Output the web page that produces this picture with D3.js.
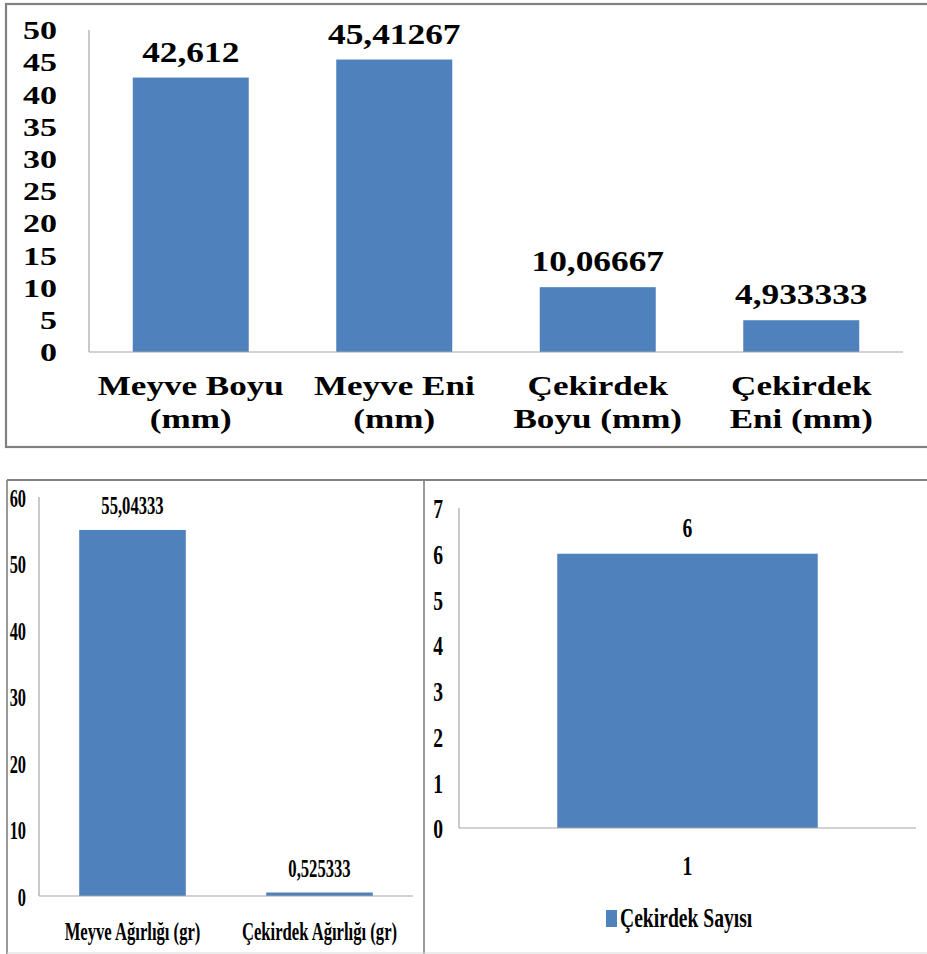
<!DOCTYPE html>
<html>
<head>
<meta charset="utf-8">
<script src="https://cdn.jsdelivr.net/npm/d3@7"></script>
<style>
  body { margin: 0; background: #fff; }
  svg { display: block; }
  text { font-family: "Liberation Serif", "Times New Roman", serif; font-weight: bold; fill: #000; }
</style>
</head>
<body>
<svg id="chart" width="927" height="954"></svg>
<script>
// Fruit and stone dimensions (mm)
const sizeCategories = ["Meyve Boyu\n(mm)", "Meyve Eni\n(mm)", "Çekirdek\nBoyu (mm)", "Çekirdek\nEni (mm)"];
const sizeValues = [42.612, 45.41267, 10.06667, 4.933333];
const sizeTicks = [0, 5, 10, 15, 20, 25, 30, 35, 40, 45, 50];

// Fruit and stone weights (gr)
const weightCategories = ["Meyve Ağırlığı (gr)", "Çekirdek Ağırlığı (gr)"];
const weightValues = [55.04333, 0.525333];
const weightTicks = [0, 10, 20, 30, 40, 50, 60];

// Stone count
const seedCategories = ["1"];
const seedValues = [6];
const seedTicks = [0, 1, 2, 3, 4, 5, 6, 7];
const seedSeries = "Çekirdek Sayısı";

const BAR = "#4f81bd";
const AXIS = "#a6a6a6";
const FRAME = "#808080";

const tr = d3.formatLocale({ decimal: ",", thousands: ".", grouping: [3], currency: ["", ""] });
const valueFmt = tr.format(".7~g");

const svg = d3.select("#chart");

// Panel frames
svg.append("rect").attr("x", 6).attr("y", 4).attr("width", 960).attr("height", 443)
  .attr("fill", "none").attr("stroke", FRAME).attr("stroke-width", 2.2);
svg.append("line").attr("x1", 7).attr("x2", 960).attr("y1", 480).attr("y2", 480)
  .attr("stroke", FRAME).attr("stroke-width", 2.2);
svg.append("line").attr("x1", 7).attr("x2", 7).attr("y1", 480).attr("y2", 954)
  .attr("stroke", FRAME).attr("stroke-width", 1.6);
svg.append("line").attr("x1", 424).attr("x2", 424).attr("y1", 480).attr("y2", 954)
  .attr("stroke", FRAME).attr("stroke-width", 1.6);
svg.append("line").attr("x1", 7).attr("x2", 960).attr("y1", 953).attr("y2", 953)
  .attr("stroke", "#d9d9d9").attr("stroke-width", 1);

function scaledText(sel, x, y, sx) {
  return sel.attr("transform", `translate(${x},${y}) scale(${sx},1)`);
}

function barChart(cfg) {
  const g = svg.append("g");
  const x = d3.scaleBand().domain(cfg.cats).range([cfg.left, cfg.right])
    .paddingInner(0.43).paddingOuter(0.215);
  const y = d3.scaleLinear().domain([0, cfg.max]).range([cfg.base, cfg.top]);

  // axis lines
  g.append("line").attr("x1", cfg.left).attr("x2", cfg.left)
    .attr("y1", y(cfg.max)).attr("y2", y(0)).attr("stroke", AXIS).attr("stroke-width", 1.2);

  // bars
  g.selectAll("rect.bar").data(cfg.vals).join("rect").attr("class", "bar")
    .attr("x", (d, i) => x(cfg.cats[i]))
    .attr("width", x.bandwidth())
    .attr("y", d => y(d))
    .attr("height", d => y(0) - y(d))
    .attr("fill", BAR);

  g.append("line").attr("x1", cfg.left).attr("x2", cfg.right)
    .attr("y1", y(0)).attr("y2", y(0)).attr("stroke", AXIS).attr("stroke-width", 1.2);

  // y tick labels
  const ax = g.append("g").attr("transform", `translate(${cfg.left},0)`)
    .call(d3.axisLeft(y).tickValues(cfg.ticks).tickSize(0).tickFormat(d3.format("d")));
  ax.select(".domain").remove();
  ax.selectAll(".tick text")
    .attr("x", 0).attr("dy", "0.35em")
    .attr("text-anchor", "end")
    .style("font-size", cfg.tickSize + "px")
    .style("font-family", null)
    .attr("transform", `translate(${cfg.tickRight - cfg.left},0) scale(${cfg.tickSx},1)`);

  // value labels
  g.selectAll("text.val").data(cfg.vals).join("text").attr("class", "val")
    .attr("text-anchor", "middle")
    .style("font-size", cfg.valSize + "px")
    .text(d => valueFmt(d))
    .each(function (d, i) {
      scaledText(d3.select(this), x(cfg.cats[i]) + x.bandwidth() / 2, y(d) - cfg.valGap, cfg.valSx);
    });

  // category labels
  g.selectAll("text.cat").data(cfg.cats).join("text").attr("class", "cat")
    .attr("text-anchor", "middle")
    .style("font-size", cfg.catSize + "px")
    .each(function (d) {
      const t = d3.select(this);
      scaledText(t, x(d) + x.bandwidth() / 2, cfg.catBase, cfg.catSx);
      d.split("\n").forEach((line, k) => {
        t.append("tspan").attr("x", 0).attr("dy", k === 0 ? 0 : cfg.catLine).text(line);
      });
    });
  return { x, y };
}

// Dimensions chart
barChart({
  cats: sizeCategories, vals: sizeValues, ticks: sizeTicks, max: 50,
  left: 89, right: 903, base: 352, top: 30,
  tickSize: 25, tickSx: 1.36, tickRight: 57,
  valSize: 29, valSx: 1.22, valGap: 16,
  catSize: 27, catSx: 1.3, catBase: 395, catLine: 33
});

// Weights chart
barChart({
  cats: weightCategories, vals: weightValues, ticks: weightTicks, max: 60,
  left: 39, right: 413, base: 896, top: 497,
  tickSize: 26, tickSx: 0.63, tickRight: 26,
  valSize: 26, valSx: 0.64, valGap: 16,
  catSize: 26, catSx: 0.64, catBase: 940, catLine: 30
});

// Stone count chart
barChart({
  cats: seedCategories, vals: seedValues, ticks: seedTicks, max: 7,
  left: 459, right: 916, base: 828, top: 508,
  tickSize: 28, tickSx: 0.7, tickRight: 443,
  valSize: 28, valSx: 0.7, valGap: 17,
  catSize: 28, catSx: 0.7, catBase: 875, catLine: 30
});

// Legend
const lg = svg.append("g");
lg.append("rect").attr("x", 606).attr("y", 910).attr("width", 11).attr("height", 17).attr("fill", BAR);
scaledText(lg.append("text").style("font-size", "28px").text(seedSeries), 620, 927, 0.7);
</script>
</body>
</html>
